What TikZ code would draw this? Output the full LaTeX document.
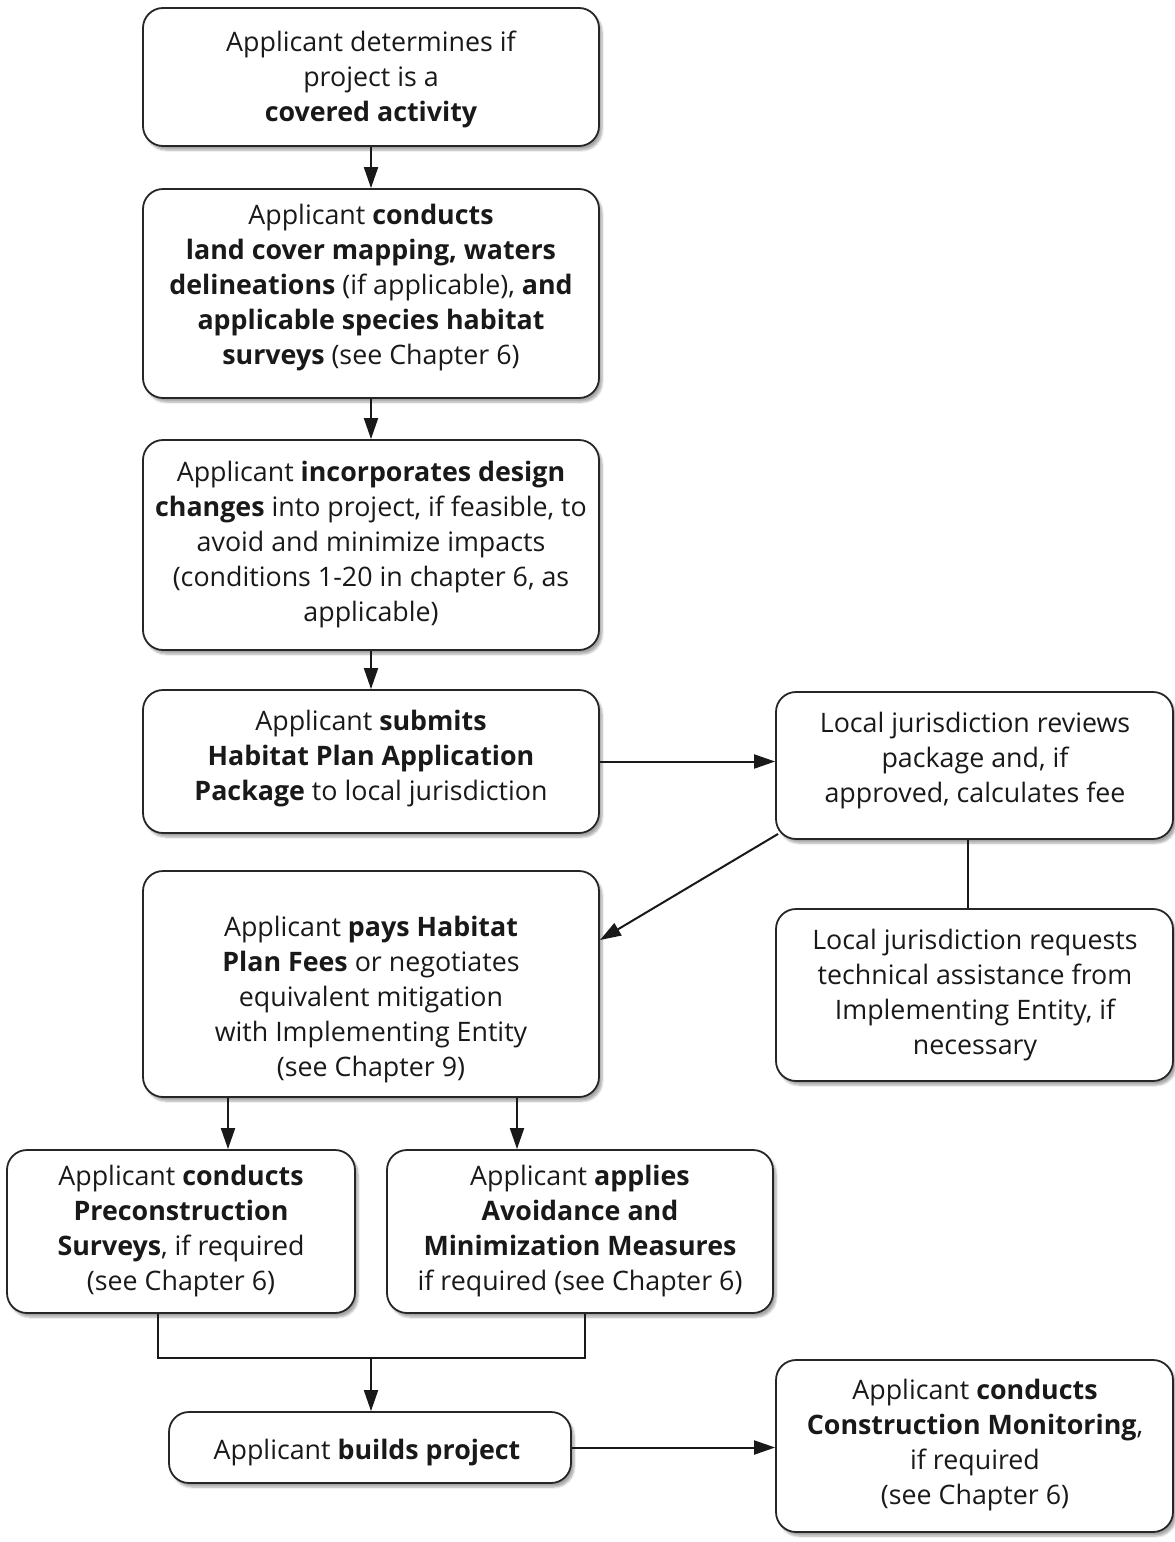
\documentclass[tikz,border=0pt]{standalone}
\usepackage{fontspec}
\setmainfont{Open Sans}
\usetikzlibrary{arrows.meta,shadows.blur,calc}
\tikzset{
  box/.style={draw=black!85, line width=1.8pt, rounded corners=20pt, fill=white,
    blur shadow={shadow xshift=3pt, shadow yshift=-4pt, shadow blur steps=6, shadow opacity=35}},
  txt/.style={align=center, font=\fontsize{26.8}{35}\selectfont, text=black!90},
  arr/.style={line width=2pt, draw=black!90, -{Triangle[length=21pt,width=14pt]}},
  ln/.style={line width=2pt, draw=black!90}
}
\begin{document}
\begin{tikzpicture}[x=1pt,y=-1pt]
\useasboundingbox (0,0) rectangle (1175,1542);
% boxes
\node[box, minimum width=456pt, minimum height=138pt] (b1) at (371,77) {};
\node[box, minimum width=456pt, minimum height=209pt] (b2) at (371,293.5) {};
\node[box, minimum width=456pt, minimum height=210pt] (b3) at (371,545) {};
\node[box, minimum width=456pt, minimum height=143pt] (b4) at (371,761.5) {};
\node[box, minimum width=397pt, minimum height=147pt] (b5) at (974.5,765.5) {};
\node[box, minimum width=456pt, minimum height=226pt] (b6) at (371,984) {};
\node[box, minimum width=397pt, minimum height=172pt] (b7) at (974.5,995) {};
\node[box, minimum width=348pt, minimum height=163pt] (b8) at (181,1231.5) {};
\node[box, minimum width=386pt, minimum height=163pt] (b9) at (580,1231.5) {};
\node[box, minimum width=402pt, minimum height=71pt] (b10) at (370,1447.5) {};
\node[box, minimum width=397pt, minimum height=172pt] (b11) at (974.5,1446) {};
% texts
\node[txt] (t1) at (371,79) {Applicant determines if\\ project is a\\ \textbf{covered activity}};
\node[txt] (t2) at (371,288) {Applicant \textbf{conducts}\\ \textbf{land cover mapping, waters}\\ \textbf{delineations} (if applicable), \textbf{and}\\ \textbf{applicable species habitat}\\ \textbf{surveys} (see Chapter 6)};
\node[txt] (t3) at (371,545) {Applicant \textbf{incorporates design}\\ \textbf{changes} into project, if feasible, to\\ avoid and minimize impacts\\ (conditions 1-20 in chapter 6, as\\ applicable)};
\node[txt] (t4) at (371,759) {Applicant \textbf{submits}\\ \textbf{Habitat Plan Application}\\ \textbf{Package} to local jurisdiction};
\node[txt] (t5) at (975,761) {Local jurisdiction reviews\\ package and, if\\ approved, calculates fee};
\node[txt] (t6) at (371,1000) {Applicant \textbf{pays Habitat}\\ \textbf{Plan Fees} or negotiates\\ equivalent mitigation\\ with Implementing Entity\\ (see Chapter 9)};
\node[txt] (t7) at (975,995) {Local jurisdiction requests\\ technical assistance from\\ Implementing Entity, if\\ necessary};
\node[txt] (t8) at (181,1231) {Applicant \textbf{conducts}\\ \textbf{Preconstruction}\\ \textbf{Surveys}, if required\\ (see Chapter 6)};
\node[txt] (t9) at (580,1231) {Applicant \textbf{applies}\\ \textbf{Avoidance and}\\ \textbf{Minimization Measures}\\ if required (see Chapter 6)};
\node[txt] (t10) at (367,1453) {Applicant \textbf{builds project}};
\node[txt] (t11) at (975,1445) {Applicant \textbf{conducts}\\ \textbf{Construction Monitoring},\\ if required\\ (see Chapter 6)};
% connectors
\draw[arr] (b1.south) -- (b2.north);
\draw[arr] (b2.south) -- (b3.north);
\draw[arr] (b3.south) -- (b4.north);
\draw[arr] (b4.east) -- (b5.west |- b4.east);
\coordinate (c6) at (600,940);
\draw[arr] ($(b5.south west)+(3,-6)$) -- (c6);
\draw[ln] (b5.south -| 968,0) -- (b7.north -| 968,0);
\draw[arr] (b6.south -| 228,0) -- (b8.north -| 228,0);
\draw[arr] (b6.south -| 517,0) -- (b9.north -| 517,0);
\coordinate (j1) at (158,1358);
\coordinate (j2) at (585,1358);
\coordinate (jm) at (371,1358);
\draw[ln] (b8.south -| j1) -- (j1) -- (j2) -- (b9.south -| j2);
\draw[arr] (jm) -- (b10.north -| jm);
\draw[arr] (b10.east) -- (b11.west |- b10.east);
\end{tikzpicture}
\end{document}
